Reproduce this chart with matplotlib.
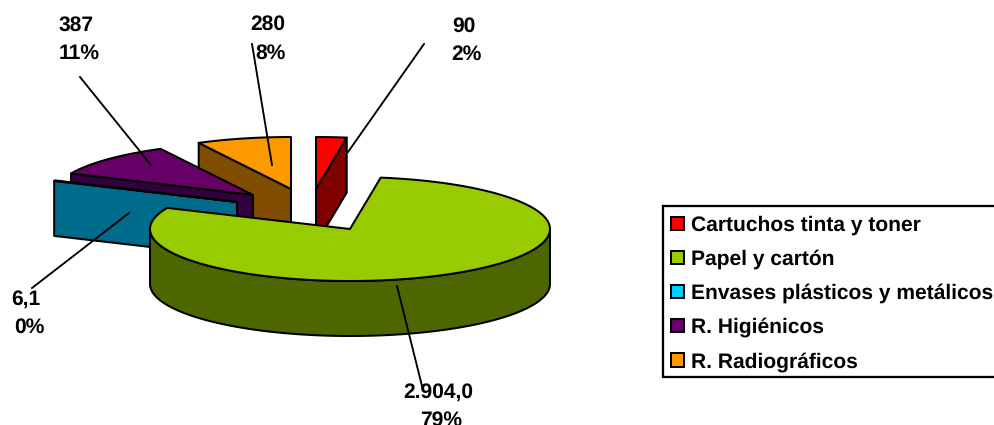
import numpy as np
import matplotlib
matplotlib.use("Agg")
import matplotlib.pyplot as plt
from matplotlib.patches import Polygon, Patch, Rectangle

categories = ["Cartuchos tinta y toner", "Papel y cartón", "Envases plásticos y metálicos",
              "R. Higiénicos", "R. Radiográficos"]
values = [90, 2904.0, 6.1, 387, 280]
value_labels = ["90", "2.904,0", "6,1", "387", "280"]
pct_labels = ["2%", "79%", "0%", "11%", "8%"]

top_colors = ["#FF0000", "#99CC00", "#00CCFF", "#660066", "#FF9900"]
wall_colors = ["#800000", "#4D6600", "#006C8C", "#33003F", "#804D00"]
legend_colors = top_colors

# apex of each exploded slice in pixel space
apex = [(316, 189), (350, 229), (237, 202), (253, 195), (291, 189)]
RX, RY, DEPTH = 200, 52, 55
draw_order = [0, 4, 3, 2, 1]

# centre positions of the value label and the percent label
value_xy = [(463.5, 26), (438, 392), (25.5, 299), (76.5, 25), (268, 24)]
pct_xy = [(466, 54), (441, 420), (29, 327), (79.5, 53), (271, 53)]
leaders = [((424, 44), (348, 152)), ((397, 286), (423, 390)), ((32, 288), (129, 213)),
           ((80, 77), (151, 165)), ((252, 44), (272, 165))]

plt.rcParams["font.family"] = ["Liberation Sans", "DejaVu Sans"]
plt.rcParams["text.hinting"] = "none"
plt.rcParams["text.hinting_factor"] = 1
fig = plt.figure(figsize=(9.95, 4.25), dpi=100)
ax = fig.add_axes([0, 0, 1, 1])
ax.set_xlim(0, 995)
ax.set_ylim(425, 0)
ax.axis("off")

LW = 1.45
fractions = np.array(values) / sum(values)
ends = np.cumsum(fractions) * 2 * np.pi
starts = ends - fractions * 2 * np.pi


def rim(a, th):
    return a[0] + RX * np.sin(th), a[1] - RY * np.cos(th)


for z, i in enumerate(draw_order):
    a, s, e = apex[i], starts[i], ends[i]
    kw = dict(edgecolor="black", linewidth=LW, joinstyle="round", zorder=2 + z)
    faces = []
    if np.sin(s) < 0:
        faces.append(s)
    if np.sin(e) > 0:
        faces.append(e)
    for th in faces:
        x, y = rim(a, th)
        ax.add_patch(Polygon([a, (x, y), (x, y + DEPTH), (a[0], a[1] + DEPTH)],
                             facecolor=wall_colors[i], **kw))
    lo, hi = max(s, np.pi / 2), min(e, 3 * np.pi / 2)
    if hi > lo:
        t = np.linspace(lo, hi, 200)
        x, y = rim(a, t)
        pts = np.r_[np.c_[x, y], np.c_[x[::-1], y[::-1] + DEPTH]]
        ax.add_patch(Polygon(pts, facecolor=wall_colors[i], **kw))
    t = np.linspace(s, e, 300)
    x, y = rim(a, t)
    ax.add_patch(Polygon(np.r_[[a], np.c_[x, y]], facecolor=top_colors[i], **kw))

for (p, q) in leaders:
    ax.plot([p[0], q[0]], [p[1], q[1]], color="black", lw=1.35, zorder=20)

FS = 15
for (x, y), v in zip(value_xy, value_labels):
    ax.text(x, y, v, ha="center", va="center", fontsize=FS, fontweight="bold", zorder=21)
for (x, y), p in zip(pct_xy, pct_labels):
    ax.text(x, y, p, ha="center", va="center", fontsize=FS, fontweight="bold", zorder=21)

ax.add_patch(Rectangle((663, 206), 345, 171, facecolor="white", edgecolor="black",
                       linewidth=LW + 0.2, zorder=29))
handles = [Patch(facecolor=c, edgecolor="black", linewidth=LW) for c in legend_colors]
leg = ax.legend(handles, categories, loc="upper left", bbox_to_anchor=(662, 206),
                bbox_transform=ax.transData, prop=dict(size=FS, weight="bold"),
                frameon=False, handlelength=0.62,
                handleheight=0.62, handletextpad=0.34, labelspacing=0.69, borderpad=0.45,
                borderaxespad=0, labelcolor="black")
leg.set_zorder(30)

fig.savefig("out.png", dpi=100)
